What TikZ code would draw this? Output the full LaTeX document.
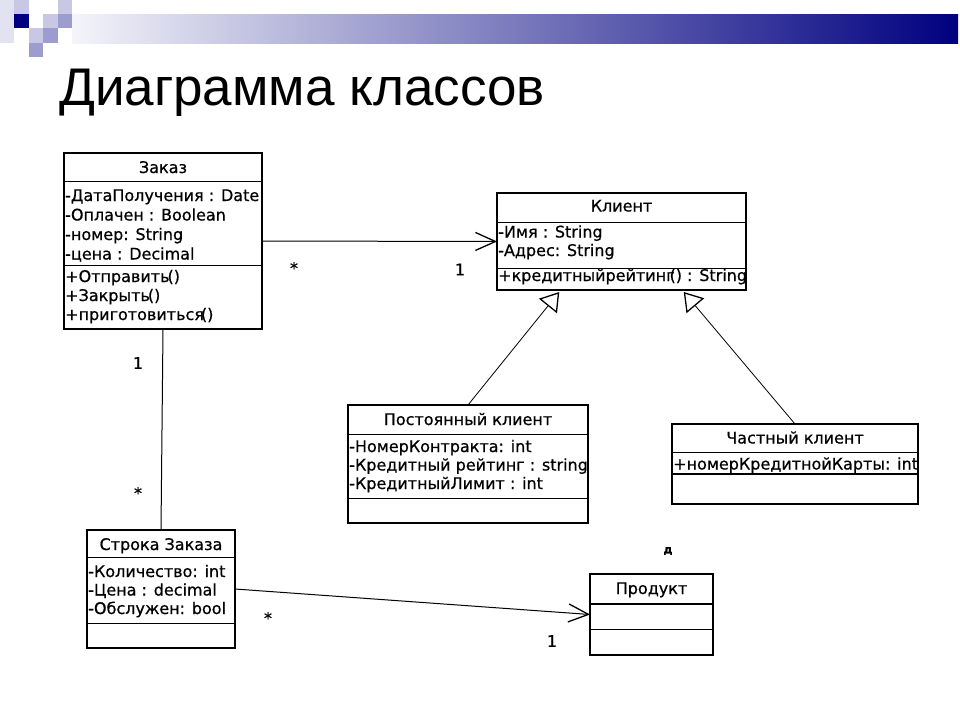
\documentclass[tikz,border=0pt]{standalone}
\usepackage{fontspec}
\setmainfont{DejaVu Sans}
\newfontfamily\boxfont{DejaVu Sans}[FakeBold=0.6]
\newfontfamily\titlefont{Liberation Sans}
\usetikzlibrary{arrows.meta,calc}
\definecolor{navy}{RGB}{0,0,128}
\definecolor{sqA}{RGB}{226,226,240}
\definecolor{sqB}{RGB}{200,200,228}
\definecolor{sqC}{RGB}{156,156,206}
\definecolor{barL}{RGB}{244,244,250}
\begin{document}
\begin{tikzpicture}[x=1pt,y=-1pt,
  box/.style={draw, line width=1.6pt, anchor=north west, inner sep=0pt, outer sep=0pt},
  sepline/.style={line width=1.6pt},
  txt/.style={anchor=base west, inner sep=0pt, font=\boxfont\fontsize{16}{19}\selectfont},
  hdr/.style={anchor=base, inner sep=0pt, font=\boxfont\fontsize{16}{19}\selectfont},
  lbl/.style={inner sep=0pt, font=\boxfont\fontsize{16}{18}\selectfont},
  assoc/.style={line width=1pt, -{Straight Barb[length=20pt,width=18pt,line width=1.3pt]}},
  gen/.style={line width=0.8pt, -{Triangle[open,length=18pt,width=23pt,line width=1.3pt]}},
  plain/.style={line width=1pt}]
\useasboundingbox (0,0) rectangle (960,720);
\fill[white] (0,0) rectangle (960,720);
% decoration
\fill[sqA] (0,0) rectangle (14,43);
\fill[sqB] (14,0) rectangle (29,14);
\fill[sqB] (58,0) rectangle (72,14);
\fill[navy] (14,14) rectangle (29,28);
\fill[sqB] (43,14) rectangle (58,28);
\fill[sqC] (58,14) rectangle (72,28);
\fill[sqB] (29,28) rectangle (43,43);
\fill[sqC] (43,28) rectangle (58,43);
\fill[sqC] (29,43) rectangle (43,57);
\shade[left color=barL, right color=navy] (72,14) rectangle (958,43);
% title
\node[anchor=base west, inner sep=0pt, font=\titlefont\fontsize{53}{53}\selectfont] (title) at (59,105) {Диаграмма классов};
% Заказ
\node[box, minimum width=198pt, minimum height=176pt] (zakaz) at (64,153) {};
\draw[sepline] (64,181.5) -- (262,181.5);
\draw[sepline] (64,265.5) -- (262,265.5);
\node[hdr] (zt) at (163,173) {Заказ};
\node[txt] (z1) at (65,201) {-ДатаПолучения : Date};
\node[txt] (z2) at (65,220.5) {-Оплачен : Boolean};
\node[txt] (z3) at (65,240) {-номер: String};
\node[txt] (z4) at (65,259.5) {-цена : Decimal};
\node[txt] (z5) at (65,282) {+Отправить\kern-2pt()};
\node[txt] (z6) at (65,301) {+Закрыть\kern-2pt()};
\node[txt] (z7) at (65,320) {+приготовиться\kern-3pt()};
% Клиент
\node[box, minimum width=249pt, minimum height=97pt] (klient) at (497,193) {};
\draw[sepline] (497,222.5) -- (746,222.5);
\draw[sepline] (497,268.5) -- (746,268.5);
\node[hdr] (kt) at (621.5,211.5) {Клиент};
\node[txt] (k1) at (498,237.5) {-Имя : String};
\node[txt] (k2) at (498,256) {-Адрес: String};
\node[txt] (k3) at (498,281) {+кредитныйрейтинг\kern-5pt() : String};
% Постоянный клиент
\node[box, minimum width=240pt, minimum height=118pt] (post) at (348,405) {};
\draw[sepline] (348,434.5) -- (588,434.5);
\draw[sepline] (348,498.5) -- (588,498.5);
\node[hdr] (pt) at (468,425) {Постоянный клиент};
\node[txt] (p1) at (349,452) {-НомерКонтракта: int};
\node[txt] (p2) at (349,470.5) {-Кредитный рейтинг : string};
\node[txt] (p3) at (349,489) {-КредитныйЛимит : int};
% Частный клиент
\node[box, minimum width=246pt, minimum height=80pt] (chast) at (672,424) {};
\draw[sepline] (672,452.5) -- (918,452.5);
\draw[sepline] (672,474) -- (918,474);
\node[hdr] (ct) at (795,443.5) {Частный клиент};
\node[txt] (c1) at (673,469.5) {+номерКредитнойКарты: int};
% Строка Заказа
\node[box, minimum width=148pt, minimum height=118pt] (stroka) at (87,530) {};
\draw[sepline] (87,557.5) -- (235,557.5);
\draw[sepline] (87,623.5) -- (235,623.5);
\node[hdr] (st) at (161,550) {Строка Заказа};
\begin{scope}
\clip (87,530) rectangle (235,648);
\node[txt] (s1) at (88,577) {-Количество: int};
\node[txt] (s2) at (88,595.5) {-Цена : decimal};
\node[txt] (s3) at (88,614) {-Обслужен: bool};
\end{scope}
% Продукт
\node[box, minimum width=123pt, minimum height=81pt] (produkt) at (590,574) {};
\draw[sepline] (590,604) -- (713,604);
\draw[sepline] (590,629.5) -- (713,629.5);
\node[hdr] (prt) at (651.5,594) {Продукт};
\node[inner sep=0pt, font=\boxfont\bfseries\fontsize{11}{13}\selectfont] (d) at (668,551) {д};
% connectors
\draw[assoc] (zakaz.east) -- (klient.west);
\draw[plain] (zakaz.south) -- (stroka.north);
\draw[assoc] (stroka.east) -- (produkt.west);
\draw[gen] (post.north) -- ([yshift=-2pt]$(klient.south west)!0.25!(klient.south east)$);
\draw[gen] (chast.north) -- ([yshift=-2pt]$(klient.south west)!0.75!(klient.south east)$);
% multiplicities
\node[lbl] (m1) at (294,268) {*};
\node[lbl] (m2) at (460,269.5) {1};
\node[lbl] (m3) at (138,363) {1};
\node[lbl] (m4) at (138,493) {*};
\node[lbl] (m5) at (268,618) {*};
\node[lbl] (m6) at (552,641) {1};
\end{tikzpicture}
\end{document}
